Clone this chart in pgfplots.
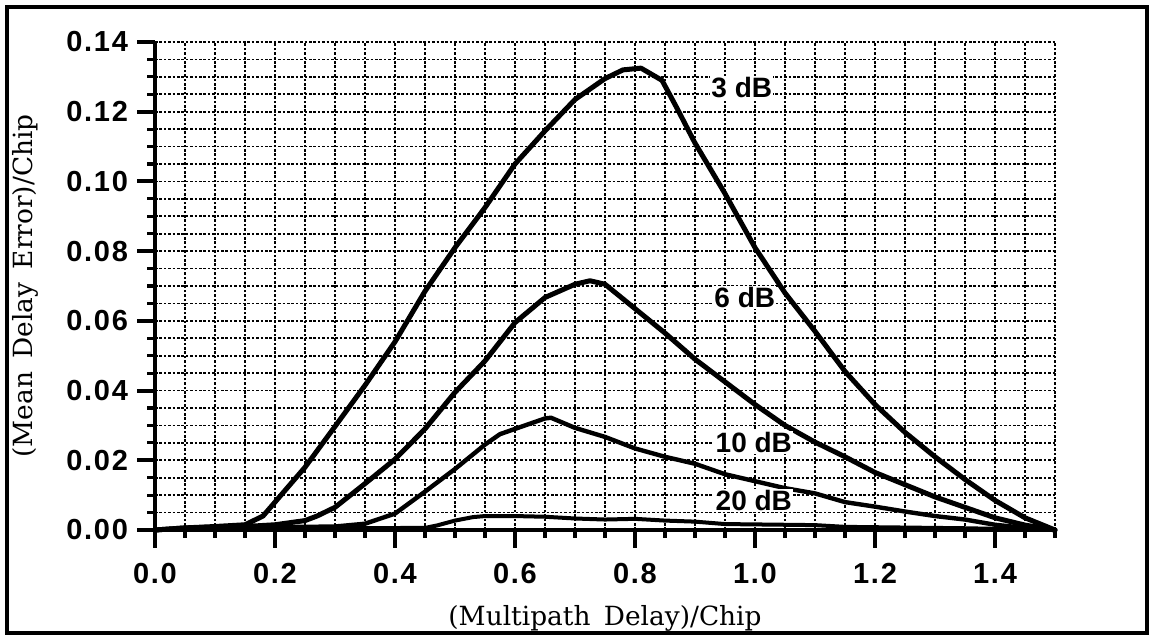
\documentclass[border=0pt]{standalone}
\usepackage{pgfplots}
\pgfplotsset{compat=1.18}
\usepackage{fontspec}
\setmainfont{DejaVu Serif}[WordSpace=1.6]
\newfontfamily\tickfont{Liberation Sans Bold}[LetterSpace=6]
\newfontfamily\lblfont{Liberation Sans Bold}

\pgfplotsset{
  gridstyle/.style={black, line width=0.85pt, dash pattern=on 1.3pt off 0.9pt},
}

\begin{document}
\begin{tikzpicture}
\useasboundingbox (0,0) rectangle (575.5pt,318pt);
\draw[line width=1.6pt] (3.5pt,1.5pt) rectangle (573.5pt,314.5pt);
\begin{axis}[
  at={(77.5pt,53pt)}, anchor=south west,
  scale only axis, width=450pt, height=244pt,
  xmin=0, xmax=1.5, ymin=0, ymax=0.14,
  axis x line=bottom, axis y line=left,
  axis line style={-, line width=2.2pt},
  xtick={0,0.2,0.4,0.6,0.8,1.0,1.2,1.4},
  ytick={0,0.02,0.04,0.06,0.08,0.10,0.12,0.14},
  minor xtick={0.05,0.1,0.15,0.25,0.3,0.35,0.45,0.5,0.55,0.65,0.7,0.75,0.85,0.9,0.95,1.05,1.1,1.15,1.25,1.3,1.35,1.45,1.5},
  minor ytick={0.005,0.01,0.015,0.025,0.03,0.035,0.045,0.05,0.055,0.065,0.07,0.075,0.085,0.09,0.095,0.105,0.11,0.115,0.125,0.13,0.135,0.14},
  grid=both,
  major grid style={gridstyle},
  minor grid style={gridstyle},
  tick align=outside,
  major tick length=9pt, minor tick length=4pt,
  major tick style={line width=2pt, black},
  minor tick style={line width=1.6pt, black},
  xticklabel style={/pgf/number format/.cd, fixed, zerofill, precision=1, assume math mode=true},
  yticklabel style={/pgf/number format/.cd, fixed, zerofill, precision=2, assume math mode=true},
  ticklabel style={font=\tickfont\fontsize{14.5}{16}\selectfont},
  xticklabel shift=4pt, yticklabel shift=1pt,
  xlabel={(Multipath Delay)/Chip},
  ylabel={(Mean Delay Error)/Chip},
  label style={font=\fontsize{13.2}{15}\selectfont},
  xlabel style={at={(axis description cs:0.5,-0.1947)}, anchor=base},
  ylabel style={at={(axis description cs:-0.1444,0.5)}, anchor=center},
  every axis plot/.append style={black, line join=round, line cap=round},
  clip=false,
]
\addplot[line width=2.5pt] coordinates {
(0,0) (0.05,0.0006) (0.1,0.001) (0.15,0.0015) (0.18,0.004) (0.2,0.008) (0.22,0.012) (0.25,0.018) (0.3,0.0297) (0.35,0.0415) (0.4,0.054) (0.45,0.0685) (0.5,0.081) (0.55,0.0925) (0.6,0.105) (0.65,0.1145) (0.7,0.1235) (0.75,0.1295) (0.78,0.132) (0.81,0.1325) (0.845,0.129) (0.87,0.121) (0.9,0.111) (0.95,0.0965) (1.0,0.081) (1.05,0.068) (1.1,0.057) (1.15,0.0455) (1.2,0.036) (1.25,0.028) (1.3,0.021) (1.35,0.0145) (1.4,0.0085) (1.45,0.0035) (1.5,0)
};
\addplot[line width=2.5pt] coordinates {
(0,0) (0.05,0.0006) (0.1,0.0008) (0.15,0.001) (0.2,0.0015) (0.25,0.0027) (0.27,0.004) (0.3,0.0065) (0.35,0.0133) (0.4,0.0203) (0.45,0.029) (0.5,0.0395) (0.55,0.0485) (0.6,0.0595) (0.65,0.0667) (0.7,0.0705) (0.725,0.0715) (0.75,0.0705) (0.8,0.0635) (0.85,0.0565) (0.9,0.049) (0.95,0.0425) (1.0,0.036) (1.05,0.030) (1.1,0.0252) (1.15,0.021) (1.2,0.0165) (1.25,0.013) (1.3,0.0095) (1.35,0.0065) (1.4,0.0035) (1.45,0.0014) (1.5,0)
};
\addplot[line width=2.2pt] coordinates {
(0,0) (0.1,0.0007) (0.2,0.0008) (0.3,0.001) (0.35,0.0018) (0.4,0.0047) (0.45,0.011) (0.5,0.0175) (0.55,0.0245) (0.575,0.0275) (0.6,0.029) (0.65,0.032) (0.66,0.0322) (0.7,0.0293) (0.75,0.0267) (0.8,0.0234) (0.85,0.021) (0.9,0.019) (0.95,0.016) (1.0,0.014) (1.05,0.012) (1.1,0.0105) (1.15,0.008) (1.2,0.0067) (1.25,0.0053) (1.3,0.004) (1.35,0.003) (1.4,0.0015) (1.45,0.0006) (1.5,0)
};
\addplot[line width=2pt] coordinates {
(0,0) (0.1,0.0005) (0.3,0.0005) (0.45,0.0006) (0.47,0.0013) (0.5,0.0027) (0.53,0.0037) (0.55,0.004) (0.6,0.004) (0.65,0.0038) (0.7,0.0033) (0.75,0.003) (0.8,0.0032) (0.85,0.0027) (0.9,0.0024) (0.95,0.0017) (1.0,0.0016) (1.1,0.0014) (1.15,0.0009) (1.2,0.0008) (1.35,0.0005) (1.5,0)
};
\begin{scope}[every node/.style={font=\lblfont\fontsize{14}{16}\selectfont, fill=white, inner sep=0.6pt}]
\node at (axis cs:0.978,0.127) {3 dB};
\node at (axis cs:0.983,0.0668) {6 dB};
\node at (axis cs:0.998,0.025) {10 dB};
\node at (axis cs:0.998,0.0086) {20 dB};
\end{scope}
\end{axis}
\end{tikzpicture}
\end{document}
